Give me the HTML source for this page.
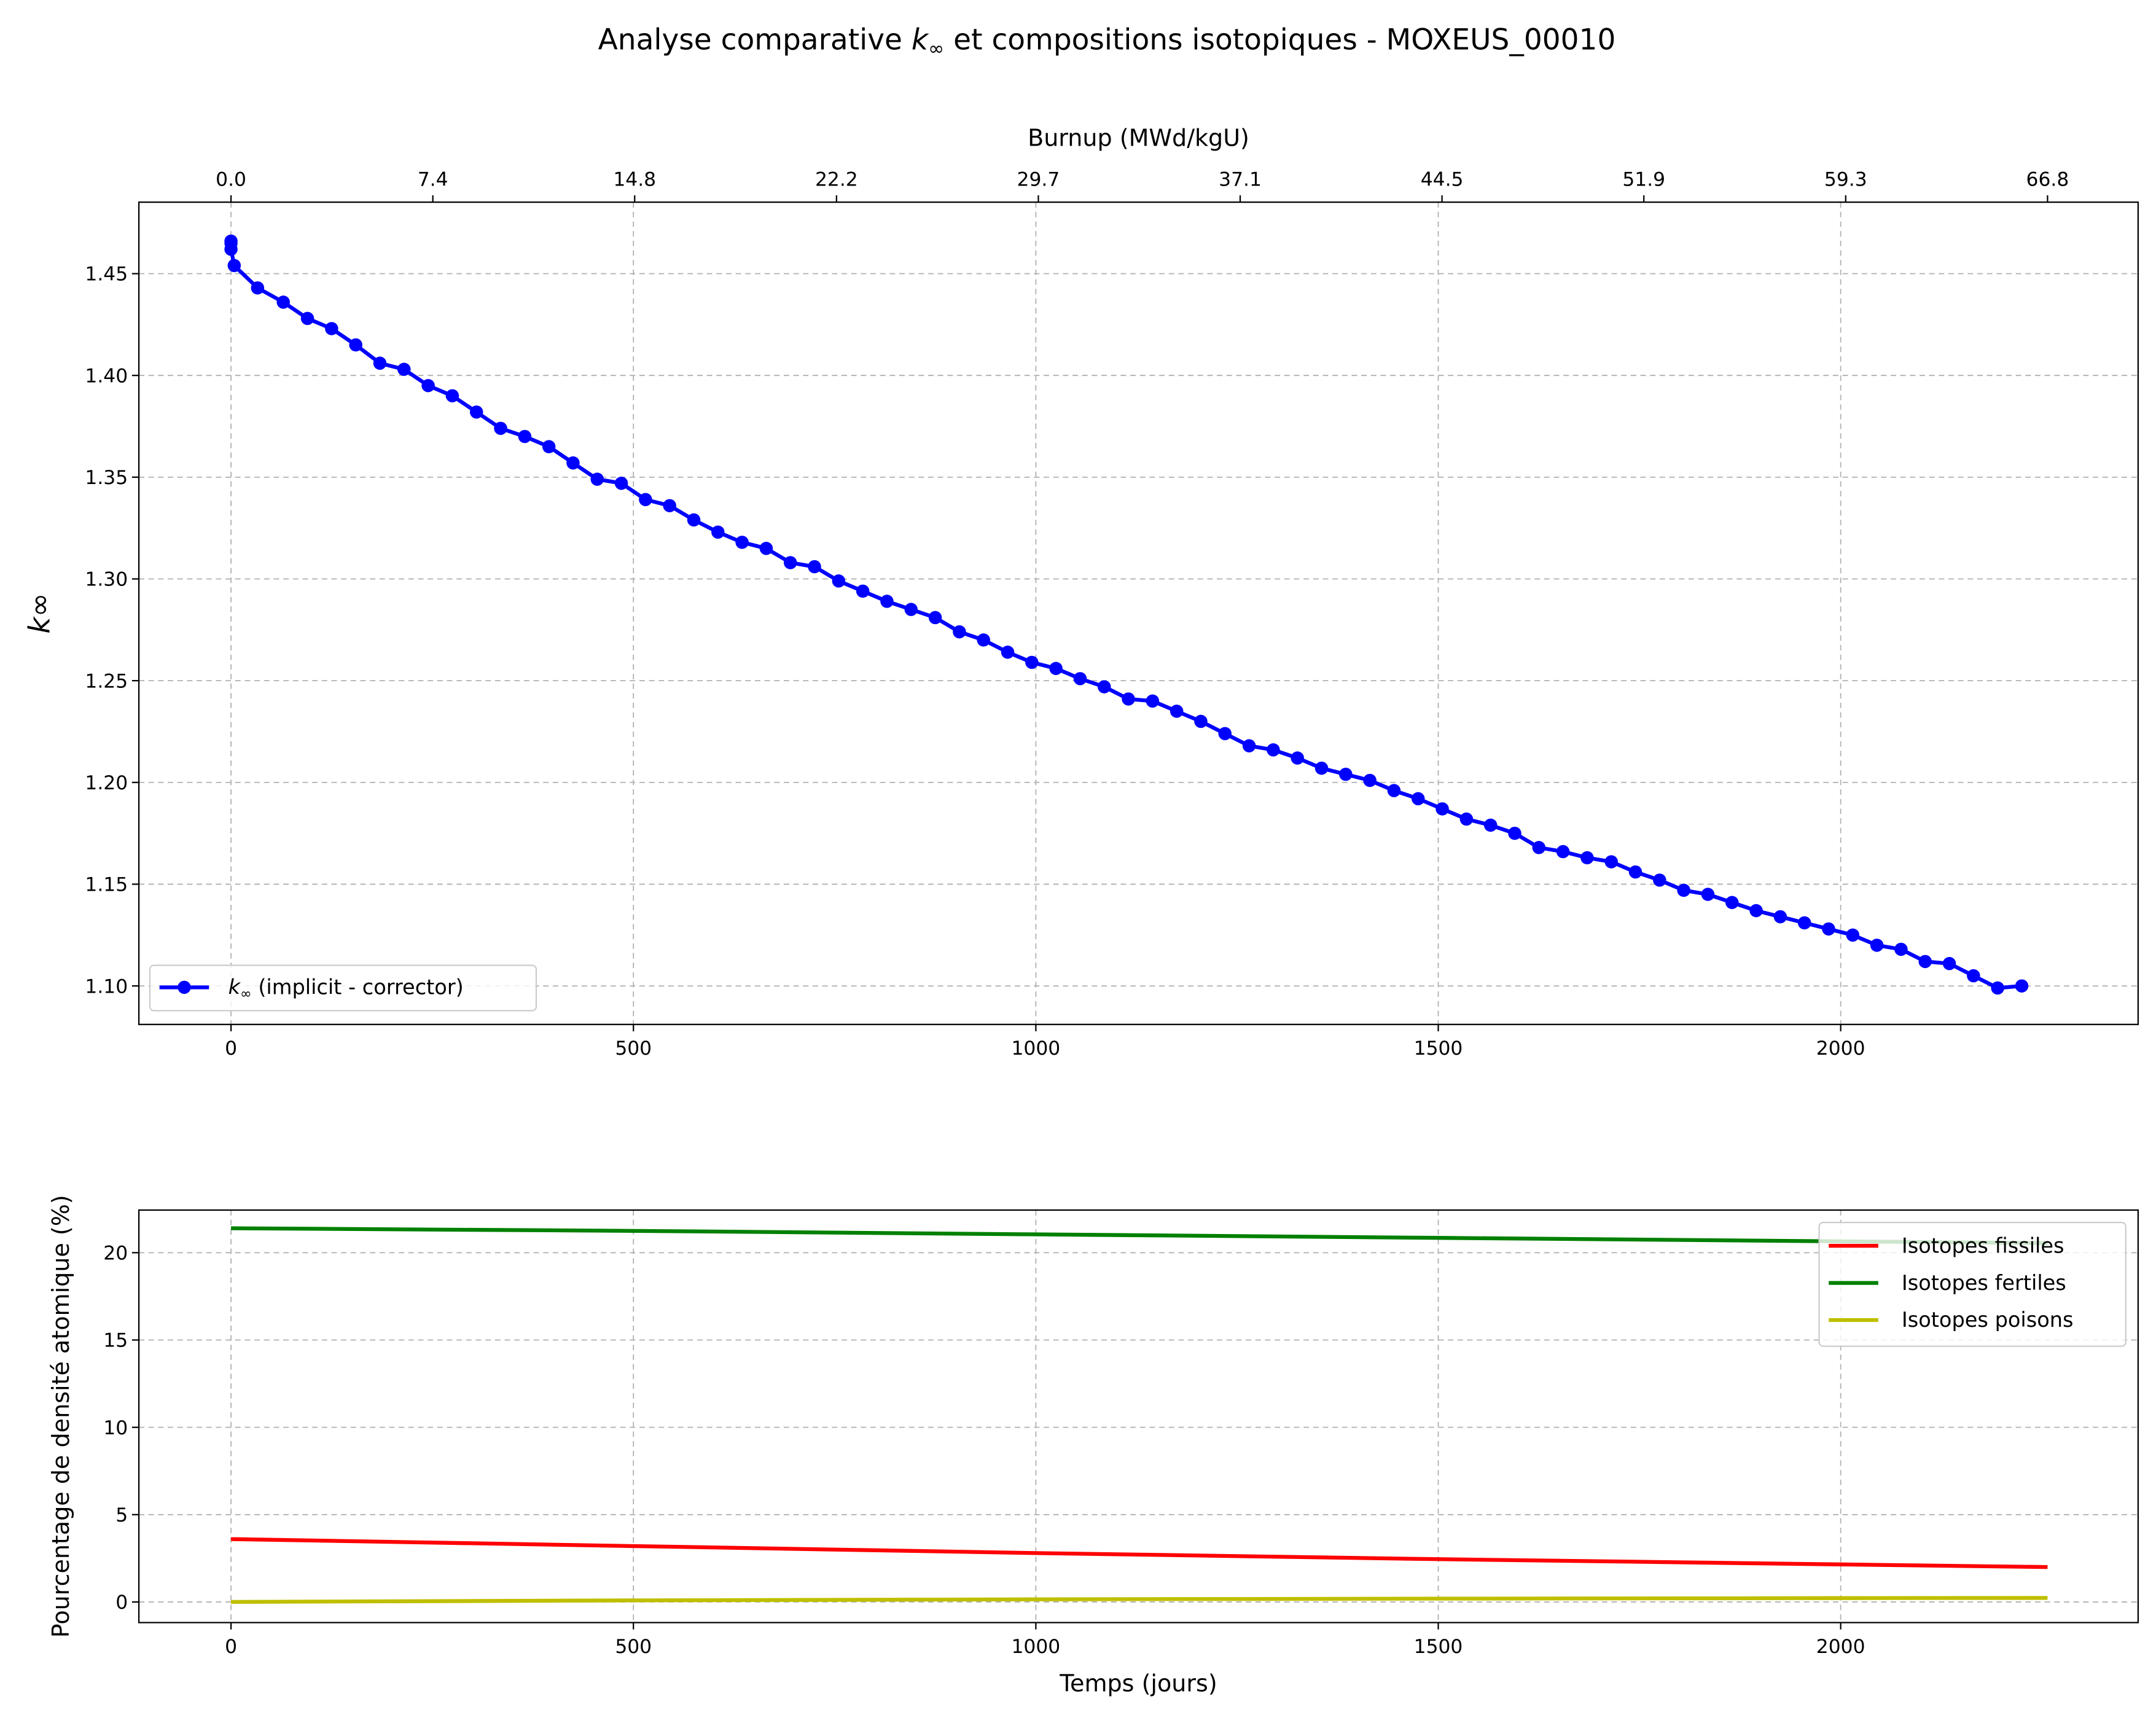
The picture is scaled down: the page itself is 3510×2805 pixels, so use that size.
<!DOCTYPE html>
<html><head><meta charset="utf-8"><style>
html,body{margin:0;padding:0;background:#fff}
svg{display:block}
text{font-family:"DejaVu Sans","Liberation Sans",sans-serif;fill:#000}
</style></head><body>
<svg id="chart" width="3510" height="2805" viewBox="0 0 1568 1253" xmlns="http://www.w3.org/2000/svg">
<rect width="1568" height="1253" fill="#fff"/>
<text x="805" y="36" font-size="21" text-anchor="middle">Analyse comparative <tspan font-style="italic">k</tspan><tspan font-size="14" dy="4">∞</tspan><tspan dy="-4"> et compositions isotopiques - MOXEUS_00010</tspan></text>
<g id="topg"></g>
<g id="botg"></g>
</svg>
<script>
const times=[0,0,0,4,33,65,95,125,155,185,215,245,275,305,335,365,395,425,455,485,515,545,575,605,635,665,695,725,755,785,815,845,875,905,935,965,995,1025,1055,1085,1115,1145,1175,1205,1235,1265,1295,1325,1355,1385,1415,1445,1475,1505,1535,1565,1595,1625,1655,1685,1715,1745,1775,1805,1835,1865,1895,1925,1955,1985,2015,2045,2075,2105,2135,2165,2195,2225];
const kinf=[1.466,1.465,1.462,1.454,1.443,1.436,1.428,1.423,1.415,1.406,1.403,1.395,1.390,1.382,1.374,1.370,1.365,1.357,1.349,1.347,1.339,1.336,1.329,1.323,1.318,1.315,1.308,1.306,1.299,1.294,1.289,1.285,1.281,1.274,1.270,1.264,1.259,1.256,1.251,1.247,1.241,1.240,1.235,1.230,1.224,1.218,1.216,1.212,1.207,1.204,1.201,1.196,1.192,1.187,1.182,1.179,1.175,1.168,1.166,1.163,1.161,1.156,1.152,1.147,1.145,1.141,1.137,1.134,1.131,1.128,1.125,1.120,1.118,1.112,1.111,1.105,1.099,1.100];
const isoTimes=[0,500,1000,1500,2000,2257];
const fissile=[3.6,3.2,2.8,2.45,2.15,2.0];
const fertile=[21.4,21.25,21.05,20.85,20.65,20.55];
const poison=[0.0,0.09,0.15,0.19,0.22,0.23];
const xTicks=[0,500,1000,1500,2000];
const kTicks=[1.10,1.15,1.20,1.25,1.30,1.35,1.40,1.45];
const pTicks=[0,5,10,15,20];
const buTicks=["0.0","7.4","14.8","22.2","29.7","37.1","44.5","51.9","59.3","66.8"];
const maxT=2257;

const NS="http://www.w3.org/2000/svg";
function mk(parent,tag,attrs,txt){const e=document.createElementNS(NS,tag);for(const k in attrs)e.setAttribute(k,attrs[k]);if(txt!==undefined)e.textContent=txt;parent.appendChild(e);return e;}
const X=t=>168+t*0.58534;
const Yk=v=>717-(v-1.10)*1480;
const Yp=v=>1165-v*12.7;
const topG=document.getElementById('topg'),botG=document.getElementById('botg');
const FS=14;
let g;
xTicks.forEach(t=>{g=mk(topG,'line',{x1:X(t),x2:X(t),y1:147,y2:745,stroke:'#b0b0b0','stroke-dasharray':'4,3','stroke-width':0.8});


mk(topG,'line',{x1:X(t),x2:X(t),y1:745,y2:750,stroke:'#000'});
g=mk(topG,'text',{x:X(t),y:767,'font-size':FS,'text-anchor':'middle'},t);

});
kTicks.forEach(v=>{g=mk(topG,'line',{x1:101,x2:1555,y1:Yk(v),y2:Yk(v),stroke:'#b0b0b0','stroke-dasharray':'4,3','stroke-width':0.8});


mk(topG,'line',{x1:96,x2:101,y1:Yk(v),y2:Yk(v),stroke:'#000'});
g=mk(topG,'text',{x:93,y:Yk(v)+5,'font-size':FS,'text-anchor':'end'},v.toFixed(2));

});
buTicks.forEach((b,i)=>{const x=X(i*maxT/9);
mk(topG,'line',{x1:x,x2:x,y1:142,y2:147,stroke:'#000'});
g=mk(topG,'text',{x:x,y:135,'font-size':FS,'text-anchor':'middle'},b);

});
g=mk(topG,'text',{x:828,y:106,'font-size':17,'text-anchor':'middle'},'Burnup (MWd/kgU)');


g=mk(topG,'text',{x:0,y:0,'font-size':21,'text-anchor':'middle','transform':'translate(36,446) rotate(-90)','font-style':'italic'},'k∞');


g=mk(topG,'polyline',{points:times.map((t,i)=>X(t)+','+Yk(kinf[i])).join(' '),fill:'none',stroke:'#0000ff','stroke-width':2.8});


times.forEach((t,i)=>{g=mk(topG,'circle',{cx:X(t),cy:Yk(kinf[i]),r:4.8,fill:'#0000ff'});

});
g=mk(topG,'rect',{x:101,y:147,width:1454,height:598,fill:'none',stroke:'#000','stroke-width':1});


g=mk(topG,'rect',{x:109,y:702,width:281,height:33,rx:3,fill:'#fff','fill-opacity':0.8,stroke:'#ccc'});


mk(topG,'line',{x1:116,x2:152,y1:718,y2:718,stroke:'#0000ff','stroke-width':2.8});
mk(topG,'circle',{cx:134,cy:718,r:4.8,fill:'#0000ff'});
g=mk(topG,'text',{x:166,y:723,'font-size':15});
mk(g,'tspan',{'font-style':'italic'},'k');
mk(g,'tspan',{'font-size':10,dy:3},'∞');
mk(g,'tspan',{dy:-3},' (implicit - corrector)');



xTicks.forEach(t=>{g=mk(botG,'line',{x1:X(t),x2:X(t),y1:880,y2:1180,stroke:'#b0b0b0','stroke-dasharray':'4,3','stroke-width':0.8});


mk(botG,'line',{x1:X(t),x2:X(t),y1:1180,y2:1185,stroke:'#000'});
g=mk(botG,'text',{x:X(t),y:1202,'font-size':FS,'text-anchor':'middle'},t);

});
pTicks.forEach(v=>{g=mk(botG,'line',{x1:101,x2:1555,y1:Yp(v),y2:Yp(v),stroke:'#b0b0b0','stroke-dasharray':'4,3','stroke-width':0.8});


mk(botG,'line',{x1:96,x2:101,y1:Yp(v),y2:Yp(v),stroke:'#000'});
g=mk(botG,'text',{x:93,y:Yp(v)+5,'font-size':FS,'text-anchor':'end'},v);

});
g=mk(botG,'text',{x:828,y:1230,'font-size':17,'text-anchor':'middle'},'Temps (jours)');


g=mk(botG,'text',{x:0,y:0,'font-size':17,'text-anchor':'middle','transform':'translate(50,1030) rotate(-90)'},'Pourcentage de densité atomique (%)');


[[fissile,'#ff0000','fissile-line'],[fertile,'#008000','fertile-line'],[poison,'#bfbf00','poison-line']].forEach(s=>{
g=mk(botG,'polyline',{points:isoTimes.map((t,i)=>X(t)+','+Yp(s[0][i])).join(' '),fill:'none',stroke:s[1],'stroke-width':2.8});

});
g=mk(botG,'rect',{x:101,y:880,width:1454,height:300,fill:'none',stroke:'#000','stroke-width':1});


g=mk(botG,'rect',{x:1323,y:889,width:223,height:90,rx:3,fill:'#fff','fill-opacity':0.8,stroke:'#ccc'});


[['Isotopes fissiles','#ff0000'],['Isotopes fertiles','#008000'],['Isotopes poisons','#bfbf00']].forEach((e,i)=>{
const y=906+i*27;
mk(botG,'line',{x1:1330,x2:1366,y1:y,y2:y,stroke:e[1],'stroke-width':2.8});
g=mk(botG,'text',{x:1383,y:y+5,'font-size':15},e[0]);

});
</script>
</body></html>
